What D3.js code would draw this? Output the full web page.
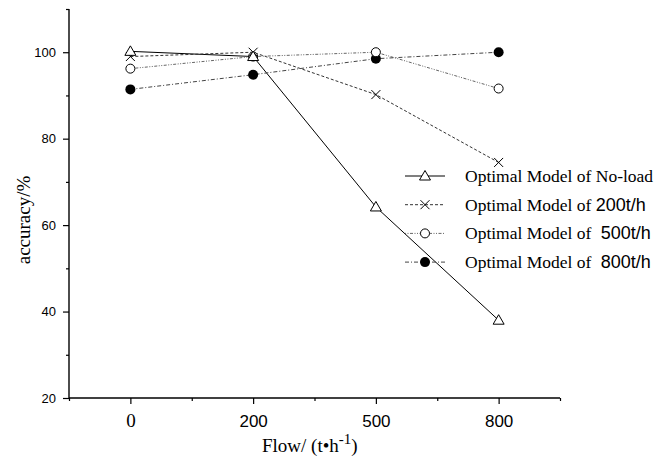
<!DOCTYPE html>
<html><head><meta charset="utf-8">
<script src="https://cdn.jsdelivr.net/npm/d3@7"></script>
<style>body{margin:0;background:#fff}svg{display:block}text{white-space:pre}</style>
</head><body>
<svg id="c" width="670" height="459"></svg>
<script>
const categories = ["0", "200", "500", "800"];
const noLoad = [100.2, 99.0, 64.2, 38.0];
const m200 = [99.0, 100.0, 90.2, 74.5];
const m500 = [96.2, 99.0, 100.0, 91.6];
const m800 = [91.4, 94.8, 98.5, 100.0];
const yTicks = [20, 40, 60, 80, 100];
const seriesNames = ["No-load", "200t/h", " 500t/h", " 800t/h"];

const svg = d3.select("#c");
const x = d3.scaleLinear().domain([-0.5, 3.5]).range([69, 560]);
const y = d3.scaleLinear().domain([20, 110]).range([398, 9]);

const series = [
  {name: seriesNames[0], v: noLoad, dash: null, color: "#000", sym: "tri"},
  {name: seriesNames[1], v: m200, dash: "3,2", color: "#333", sym: "x"},
  {name: seriesNames[2], v: m500, dash: "1,1.5,1,1.5,3,1.5", color: "#666", sym: "circ"},
  {name: seriesNames[3], v: m800, dash: "4,2,1,2", color: "#444", sym: "fill"}
];

const serif = "Liberation Serif, Times New Roman, serif";
const sans = "Liberation Sans, Arial, sans-serif";

// axes
const minorX = d3.range(-0.5, 3.51, 0.5);
const xAxis = d3.axisBottom(x).tickValues(minorX).tickSize(6).tickPadding(0)
  .tickFormat(d => Number.isInteger(d) ? categories[d] : "");
const gx = svg.append("g").attr("transform", "translate(0,398)").call(xAxis);
gx.select(".domain").attr("stroke", "#000").attr("stroke-width", 1.4).attr("d", "M69,0H560");
gx.selectAll(".tick line").attr("stroke-width", 1.2).attr("y2", d => Number.isInteger(d) ? 6 : 3);
gx.selectAll(".tick text").attr("fill", "#000").attr("y", 29).attr("dy", null)
  .attr("font-family", d => d === 0 ? serif : sans)
  .attr("font-size", d => d === 0 ? 19 : 17);

const minorY = d3.range(20, 110.1, 10);
const yAxis = d3.axisLeft(y).tickValues(minorY).tickSize(6)
  .tickFormat(d => yTicks.includes(d) ? d : "");
const gy = svg.append("g").attr("transform", "translate(69,0)").call(yAxis);
gy.select(".domain").attr("stroke", "#000").attr("stroke-width", 1.4).attr("d", "M0,9V398");
gy.selectAll(".tick line").attr("stroke-width", 1.2).attr("x2", d => yTicks.includes(d) ? -6 : -3);
gy.selectAll(".tick text").attr("font-family", sans).attr("font-size", 13).attr("fill", "#000").attr("x", -13);

// axis titles
svg.append("text").attr("transform", "translate(30,220) rotate(-90)").attr("text-anchor", "middle")
  .attr("font-family", serif).attr("font-size", 19).text("accuracy/%");
const xt = svg.append("text").attr("x", 262).attr("y", 452).attr("font-family", serif).attr("font-size", 19);
xt.append("tspan").text("Flow/ (t\u2022h");
xt.append("tspan").attr("dy", -8).attr("font-size", 15).text("-1");
xt.append("tspan").attr("dy", 8).text(")");

function drawSym(g, sym, cx, cy) {
  if (sym === "tri") {
    g.append("path").attr("d", `M${cx},${cy-5.5}L${cx+5.5},${cy+4}L${cx-5.5},${cy+4}Z`).attr("fill", "#fff").attr("stroke", "#000").attr("stroke-width", 1);
  } else if (sym === "x") {
    g.append("path").attr("d", `M${cx-4.5},${cy-4.5}L${cx+4.5},${cy+4.5}M${cx+4.5},${cy-4.5}L${cx-4.5},${cy+4.5}`).attr("stroke", "#000").attr("stroke-width", 1);
  } else if (sym === "circ") {
    g.append("circle").attr("cx", cx).attr("cy", cy).attr("r", 4.5).attr("fill", "#fff").attr("stroke", "#000").attr("stroke-width", 1);
  } else {
    g.append("circle").attr("cx", cx).attr("cy", cy).attr("r", 5).attr("fill", "#000");
  }
}

const line = d3.line().x((d, i) => x(i)).y(d => y(d));
series.forEach(s => {
  svg.append("path").attr("d", line(s.v)).attr("fill", "none").attr("stroke", s.color)
    .attr("stroke-width", 1).attr("stroke-dasharray", s.dash);
});
[3, 2, 1, 0].forEach(k => {
  const s = series[k];
  const g = svg.append("g");
  s.v.forEach((d, i) => drawSym(g, s.sym, x(i), y(d)));
});

// legend
const lg = svg.append("g");
series.forEach((s, k) => {
  const ly = 176 + k * 28.7;
  lg.append("line").attr("x1", 405).attr("x2", 445).attr("y1", ly).attr("y2", ly)
    .attr("stroke", s.color).attr("stroke-width", 1).attr("stroke-dasharray", s.dash);
  drawSym(lg, s.sym, 425, ly);
  const t = lg.append("text").attr("x", 465).attr("y", ly + 6).attr("font-size", 17.5)
    .attr("font-family", serif);
  t.append("tspan").text("Optimal Model of ");
  if (k === 0) t.append("tspan").text(s.name);
  else t.append("tspan").attr("font-family", sans).attr("font-size", 18).text(s.name);
});
</script>
</body></html>
